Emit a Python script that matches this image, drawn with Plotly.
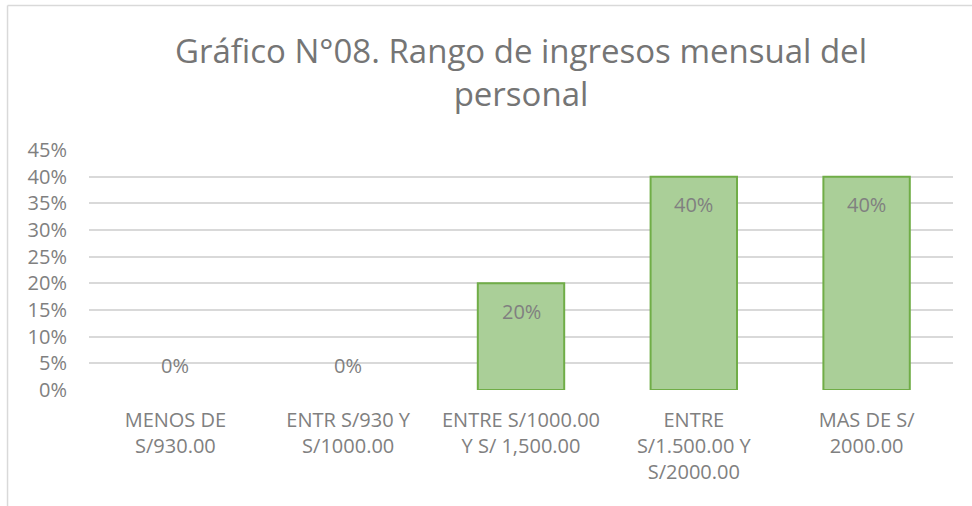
import plotly.graph_objects as go

categories = ["MENOS DE<br>S/930.00", "ENTR S/930 Y<br>S/1000.00", "ENTRE S/1000.00<br>Y S/ 1,500.00",
              "ENTRE<br>S/1.500.00 Y<br>S/2000.00", "MAS DE S/<br>2000.00"]
values = [0.0, 0.0, 0.20, 0.40, 0.40]
labels = ["0%", "0%", "20%", "40%", "40%"]
tick_vals = [0, 0.05, 0.10, 0.15, 0.20, 0.25, 0.30, 0.35, 0.40, 0.45]
tick_text = ["0%", "5%", "10%", "15%", "20%", "25%", "30%", "35%", "40%", "45%"]

FONT = "Open Sans"
TXT = "#808080"

fig = go.Figure()
fig.add_trace(go.Bar(
    x=categories, y=values, width=0.5,
    marker=dict(color="#aacf98",
                line=dict(color="#70ad47", width=[2 if v > 0 else 0 for v in values])),
    hoverinfo="skip",
))

annotations = []
for c, v, t in zip(categories, values, labels):
    annotations.append(dict(x=c, y=v, text=t, showarrow=False, xref="x", yref="y",
                            yshift=(-28 if v > 0 else 25),
                            font=dict(family=FONT, size=20, color=TXT)))

fig.update_layout(
    width=972, height=506,
    margin=dict(l=89, r=19, t=150, b=116),
    paper_bgcolor="white", plot_bgcolor="white",
    title=dict(text="Gráfico N°08. Rango de ingresos mensual del<br>personal",
               x=0.5, xref="paper", xanchor="center", y=0.876, yanchor="middle",
               font=dict(family=FONT, size=33, color="#757575")),
    showlegend=False,
    bargap=0.5,
    annotations=annotations,
    xaxis=dict(showgrid=False, showline=False, zeroline=False, ticks="",
               ticklabelstandoff=16,
               tickfont=dict(family=FONT, size=20, color=TXT), tickangle=0),
    yaxis=dict(range=[0, 0.45], tickvals=tick_vals, ticktext=tick_text,
               showgrid=True, gridcolor="#d9d9d9", gridwidth=1.5, zeroline=False,
               showline=False, ticks="", ticklabelstandoff=21,
               tickfont=dict(family=FONT, size=20, color=TXT)),
    shapes=[
        dict(type="line", xref="paper", yref="paper", x0=-0.0943, x1=1.03, y0=1.602, y1=1.602,
             line=dict(color="#d9d9d9", width=1.5)),
        dict(type="line", xref="paper", yref="paper", x0=-0.0943, x1=-0.0943, y0=1.602, y1=-0.5,
             line=dict(color="#d9d9d9", width=1.5)),
    ],
)

fig.write_html("out.html", config={"displayModeBar": False},
               post_script="document.body.style.margin='0';")
